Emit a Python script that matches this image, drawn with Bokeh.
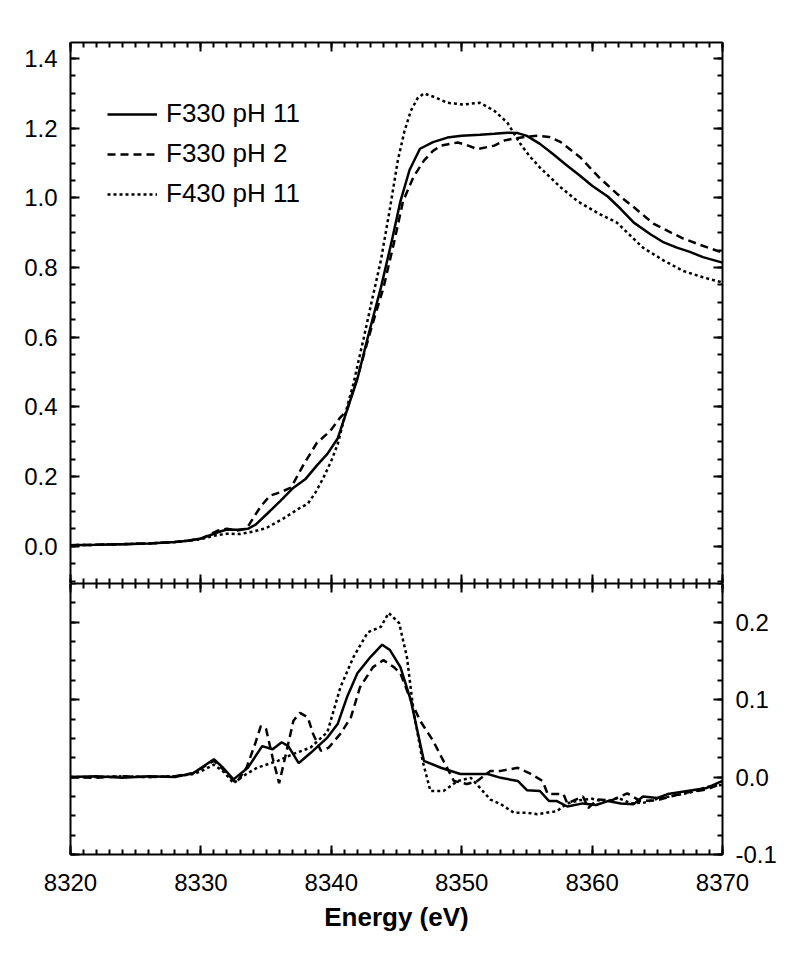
from bokeh.plotting import figure
from bokeh.models import (LinearAxis, SingleIntervalTicker, PrintfTickFormatter, Range1d, Legend, LegendItem,
                          CustomJSTickFormatter)
from bokeh.layouts import column
from bokeh.embed import file_html
from bokeh.resources import INLINE

FONT = "Liberation Sans"

x_range_eV = (8320, 8370)
top_range = (-0.107, 1.446)
bot_range = (-0.1, 0.25)

series_labels = ["F330 pH 11", "F330 pH 2", "F430 pH 11"]
x_title = "Energy (eV)"

top_solid_e = [8320, 8322, 8324, 8326, 8328, 8329, 8330, 8330.6, 8331.3, 8332, 8332.8, 8333.6, 8334.2, 8335.1,
               8336.1, 8337.1, 8338, 8338.9, 8339.7, 8340.5, 8341.2, 8342, 8342.8, 8343.8, 8344.6, 8345.3, 8346,
               8346.8, 8347.8, 8348.9, 8350, 8351.4, 8352.5, 8353.5, 8354.3, 8355, 8356, 8357, 8358, 8359.1, 8360,
               8361.2, 8362.2, 8363.2, 8364.5, 8365.5, 8366.5, 8367.5, 8368.5, 8370]
top_solid_v = [0.003, 0.004, 0.006, 0.008, 0.012, 0.016, 0.022, 0.03, 0.04, 0.048, 0.047, 0.05, 0.062, 0.094,
               0.13, 0.168, 0.192, 0.232, 0.265, 0.31, 0.39, 0.48, 0.6, 0.742, 0.87, 0.99, 1.08,
               1.141, 1.16, 1.173, 1.178, 1.181, 1.184, 1.187, 1.186, 1.178, 1.155, 1.126, 1.095, 1.063, 1.035,
               1.004, 0.968, 0.929, 0.895, 0.872, 0.857, 0.845, 0.83, 0.814]

top_dash_e = [8320, 8322, 8324, 8326, 8328, 8329, 8330, 8330.6, 8331.3, 8332, 8332.8, 8333.5, 8334, 8334.6,
              8335.3, 8336.1, 8336.9, 8337.9, 8338.9, 8339.9, 8340.7, 8341.2, 8342.2, 8343.1, 8344, 8344.8,
              8345.5, 8346.3, 8347.1, 8347.8, 8348.4, 8349.7, 8350.5, 8351.2, 8352.5, 8353.3, 8354, 8355,
              8355.8, 8356.7, 8357.6, 8359.1, 8360.5, 8361.9, 8363.3, 8364.7, 8365.8, 8367, 8368.3, 8370]
top_dash_v = [0.003, 0.004, 0.006, 0.008, 0.012, 0.016, 0.022, 0.032, 0.045, 0.05, 0.045, 0.05, 0.08, 0.115,
              0.145, 0.155, 0.168, 0.236, 0.297, 0.33, 0.37, 0.39, 0.51, 0.63, 0.742, 0.87,
              0.99, 1.06, 1.107, 1.135, 1.15, 1.159, 1.15, 1.14, 1.15, 1.165, 1.17, 1.176,
              1.178, 1.175, 1.16, 1.116, 1.06, 1.012, 0.97, 0.926, 0.905, 0.883, 0.865, 0.843]

top_dot_e = [8320, 8322, 8324, 8326, 8328, 8329, 8330, 8331, 8332, 8333, 8334, 8335, 8336.3, 8337.6, 8338.2,
             8338.8, 8339.4, 8340, 8340.5, 8341.2, 8341.7, 8342.5, 8343.2, 8343.8, 8344.5, 8345.1, 8345.6,
             8346.1, 8346.6, 8347.1, 8348, 8348.9, 8350.1, 8351.4, 8352.5, 8353.5, 8354.5, 8355.2, 8356,
             8357.6, 8358.9, 8360.5, 8361.9, 8363.9, 8365.5, 8367, 8368.5, 8370]
top_dot_v = [0.003, 0.004, 0.006, 0.008, 0.012, 0.016, 0.02, 0.03, 0.036, 0.035, 0.042, 0.052, 0.079, 0.11, 0.122,
             0.155, 0.197, 0.245, 0.294, 0.398, 0.467, 0.6, 0.72, 0.82, 0.97, 1.107, 1.19,
             1.25, 1.285, 1.30, 1.288, 1.273, 1.268, 1.273, 1.25, 1.216, 1.155, 1.12, 1.087,
             1.03, 0.99, 0.955, 0.929, 0.857, 0.82, 0.79, 0.772, 0.757]

bot_solid_e = [8320, 8322, 8324, 8326, 8328, 8329.4, 8330.2, 8331, 8331.7, 8332.5, 8333.6, 8334.7, 8335.5, 8336.2,
               8336.7, 8337.5, 8338.4, 8339.7, 8340.5, 8341.2, 8342, 8343, 8343.9, 8344.5, 8345.3, 8346.1, 8347.1,
               8348.4, 8349.9, 8352, 8353, 8354.3, 8355, 8356, 8356.7, 8357.3, 8358.1, 8359.3, 8360.3, 8361.2,
               8362.2, 8363.2, 8363.9, 8365, 8365.8, 8367.3, 8368.8, 8370]
bot_solid_v = [0.0, 0.001, -0.001, 0.001, 0.0, 0.005, 0.014, 0.023, 0.012, -0.003, 0.012, 0.04, 0.036, 0.045,
               0.04, 0.018, 0.031, 0.051, 0.069, 0.103, 0.134, 0.155, 0.171, 0.164, 0.142, 0.099, 0.021,
               0.012, 0.004, 0.004, -0.001, -0.005, -0.017, -0.018, -0.031, -0.031, -0.038, -0.034, -0.036, -0.031,
               -0.034, -0.035, -0.025, -0.027, -0.022, -0.018, -0.014, -0.005]

bot_dash_e = [8320, 8322, 8324, 8326, 8328, 8329.4, 8330.2, 8331, 8331.7, 8332.7, 8333.5, 8334.2, 8334.6, 8335,
              8335.5, 8336, 8336.4, 8337.1, 8337.6, 8338.2, 8338.6, 8339.2, 8339.8, 8340.7, 8341.5, 8342.2, 8343.2,
              8344, 8344.8, 8345.3, 8346.1, 8346.8, 8347.8, 8348.6, 8349.4, 8350.4, 8351.2, 8352.2, 8353, 8354.3,
              8355.3, 8356.2, 8356.6, 8357.8, 8358.1, 8359.3, 8359.7, 8360.4, 8361.5, 8362.7, 8363.7, 8365, 8366,
              8367.3, 8368.8, 8370]
bot_dash_v = [0.0, -0.001, 0.001, 0.0, 0.001, 0.005, 0.013, 0.021, 0.01, -0.008, 0.012, 0.045, 0.066, 0.062,
              0.025, -0.008, 0.021, 0.073, 0.083, 0.077, 0.056, 0.034, 0.038, 0.056, 0.077, 0.116, 0.142,
              0.151, 0.142, 0.134, 0.099, 0.073, 0.047, 0.021, -0.005, -0.009, -0.005, 0.008, 0.008, 0.012,
              0.004, -0.005, -0.022, -0.022, -0.034, -0.025, -0.04, -0.029, -0.03, -0.021, -0.031, -0.03, -0.025,
              -0.02, -0.016, -0.008]

bot_dot_e = [8320, 8322, 8324, 8326, 8328, 8329.5, 8330.3, 8331, 8331.8, 8332.5, 8333.3, 8334.3, 8335.9, 8337.1,
             8338.4, 8339.7, 8340.7, 8341.7, 8342.8, 8343.8, 8344.4, 8345.2, 8345.8, 8346.3, 8347, 8347.6, 8348.6,
             8349.7, 8350.7, 8351.4, 8352.2, 8353, 8354, 8355, 8355.8, 8357.3, 8358.1, 8359, 8360, 8361, 8362,
             8363, 8364, 8365, 8366, 8367.5, 8369, 8370]
bot_dot_v = [0.0, 0.0, 0.001, 0.0, 0.001, 0.004, 0.01, 0.016, 0.006, -0.008, 0.002, 0.012, 0.021, 0.03,
             0.038, 0.058, 0.116, 0.155, 0.187, 0.194, 0.212, 0.199, 0.155, 0.086, 0.021, -0.018, -0.018,
             -0.005, -0.001, -0.014, -0.029, -0.035, -0.046, -0.046, -0.048, -0.044, -0.034, -0.03, -0.028, -0.032,
             -0.027, -0.034, -0.033, -0.028, -0.025, -0.02, -0.012, -0.01]

LABEL_PX = "24px"
LEGEND_PX = "26px"
LW = 2.5
DASH = "8 5"
DOT = "3 3"


def style_axis(ax, labels=True, standoff=12):
    ax.axis_line_width = 2
    ax.axis_line_color = "black"
    ax.major_tick_line_width = 2
    ax.minor_tick_line_width = 2
    ax.major_tick_in = 9
    ax.major_tick_out = 0
    ax.minor_tick_in = 5
    ax.minor_tick_out = 0
    ax.major_label_text_font = FONT
    ax.major_label_text_color = "black"
    if labels:
        ax.major_label_text_font_size = LABEL_PX
        ax.major_label_standoff = standoff
    else:
        ax.formatter = CustomJSTickFormatter(code="return '';")
        ax.major_label_text_font_size = "1px"
        ax.major_label_standoff = 0


xr = Range1d(*x_range_eV)

# ---------- top panel ----------
top = figure(frame_width=652, frame_height=541, x_range=xr, y_range=Range1d(*top_range),
             output_backend="svg", toolbar_location=None,
             min_border_left=70, min_border_right=60, min_border_top=42, min_border_bottom=0)
top.outline_line_color = None
top.grid.visible = False
top.background_fill_color = "white"
top.border_fill_color = "white"

top.xaxis.ticker = SingleIntervalTicker(interval=10, num_minor_ticks=10)
style_axis(top.xaxis[0], labels=False)
top.yaxis.ticker = SingleIntervalTicker(interval=0.2, num_minor_ticks=4)
top.yaxis.formatter = PrintfTickFormatter(format="%.1f")
style_axis(top.yaxis[0], labels=True, standoff=13)

ax_top = LinearAxis(ticker=SingleIntervalTicker(interval=10, num_minor_ticks=10))
style_axis(ax_top, labels=False)
top.add_layout(ax_top, "above")
ax_r = LinearAxis(ticker=SingleIntervalTicker(interval=0.2, num_minor_ticks=4))
style_axis(ax_r, labels=False)
top.add_layout(ax_r, "right")

r1 = top.line(top_solid_e, top_solid_v, line_color="black", line_width=LW)
r2 = top.line(top_dash_e, top_dash_v, line_color="black", line_width=LW, line_dash=DASH)
r3 = top.line(top_dot_e, top_dot_v, line_color="black", line_width=LW, line_dash=DOT)

legend = Legend(items=[LegendItem(label=series_labels[0], renderers=[r1]),
                       LegendItem(label=series_labels[1], renderers=[r2]),
                       LegendItem(label=series_labels[2], renderers=[r3])],
                location=(37, 374))
legend.glyph_width = 50
legend.glyph_height = 26
legend.label_height = 26
legend.spacing = 9
legend.padding = 0
legend.margin = 0
legend.label_standoff = 9
legend.label_text_font = FONT
legend.label_text_font_size = LEGEND_PX
legend.label_text_color = "black"
legend.border_line_color = None
legend.background_fill_alpha = 0
top.add_layout(legend, "center")

# ---------- bottom panel ----------
bot = figure(frame_width=652, frame_height=271, x_range=xr, y_range=Range1d(*bot_range),
             output_backend="svg", toolbar_location=None, y_axis_location="right",
             min_border_left=70, min_border_right=60, min_border_top=0, min_border_bottom=10)
bot.outline_line_color = None
bot.grid.visible = False
bot.background_fill_color = "white"
bot.border_fill_color = "white"

bot.xaxis.ticker = SingleIntervalTicker(interval=10, num_minor_ticks=10)
bot.xaxis.formatter = PrintfTickFormatter(format="%d")
style_axis(bot.xaxis[0], labels=True, standoff=19)
bot.xaxis.axis_label = x_title
bot.xaxis.axis_label_text_font = FONT
bot.xaxis.axis_label_text_font_style = "bold"
bot.xaxis.axis_label_text_font_size = "26px"
bot.xaxis.axis_label_text_color = "black"
bot.xaxis.axis_label_standoff = 8

bot.yaxis.ticker = SingleIntervalTicker(interval=0.1, num_minor_ticks=4)
bot.yaxis.formatter = PrintfTickFormatter(format="%.1f")
style_axis(bot.yaxis[0], labels=True, standoff=13)

ax_bt = LinearAxis(ticker=SingleIntervalTicker(interval=10, num_minor_ticks=10))
style_axis(ax_bt, labels=False)
bot.add_layout(ax_bt, "above")
ax_bl = LinearAxis(ticker=SingleIntervalTicker(interval=0.1, num_minor_ticks=4))
style_axis(ax_bl, labels=False)
bot.add_layout(ax_bl, "left")

bot.line(bot_solid_e, bot_solid_v, line_color="black", line_width=LW)
bot.line(bot_dash_e, bot_dash_v, line_color="black", line_width=LW, line_dash=DASH)
bot.line(bot_dot_e, bot_dot_v, line_color="black", line_width=LW, line_dash=DOT)

layout = column(top, bot, spacing=0)
open("out.html", "w").write(file_html(layout, INLINE))
